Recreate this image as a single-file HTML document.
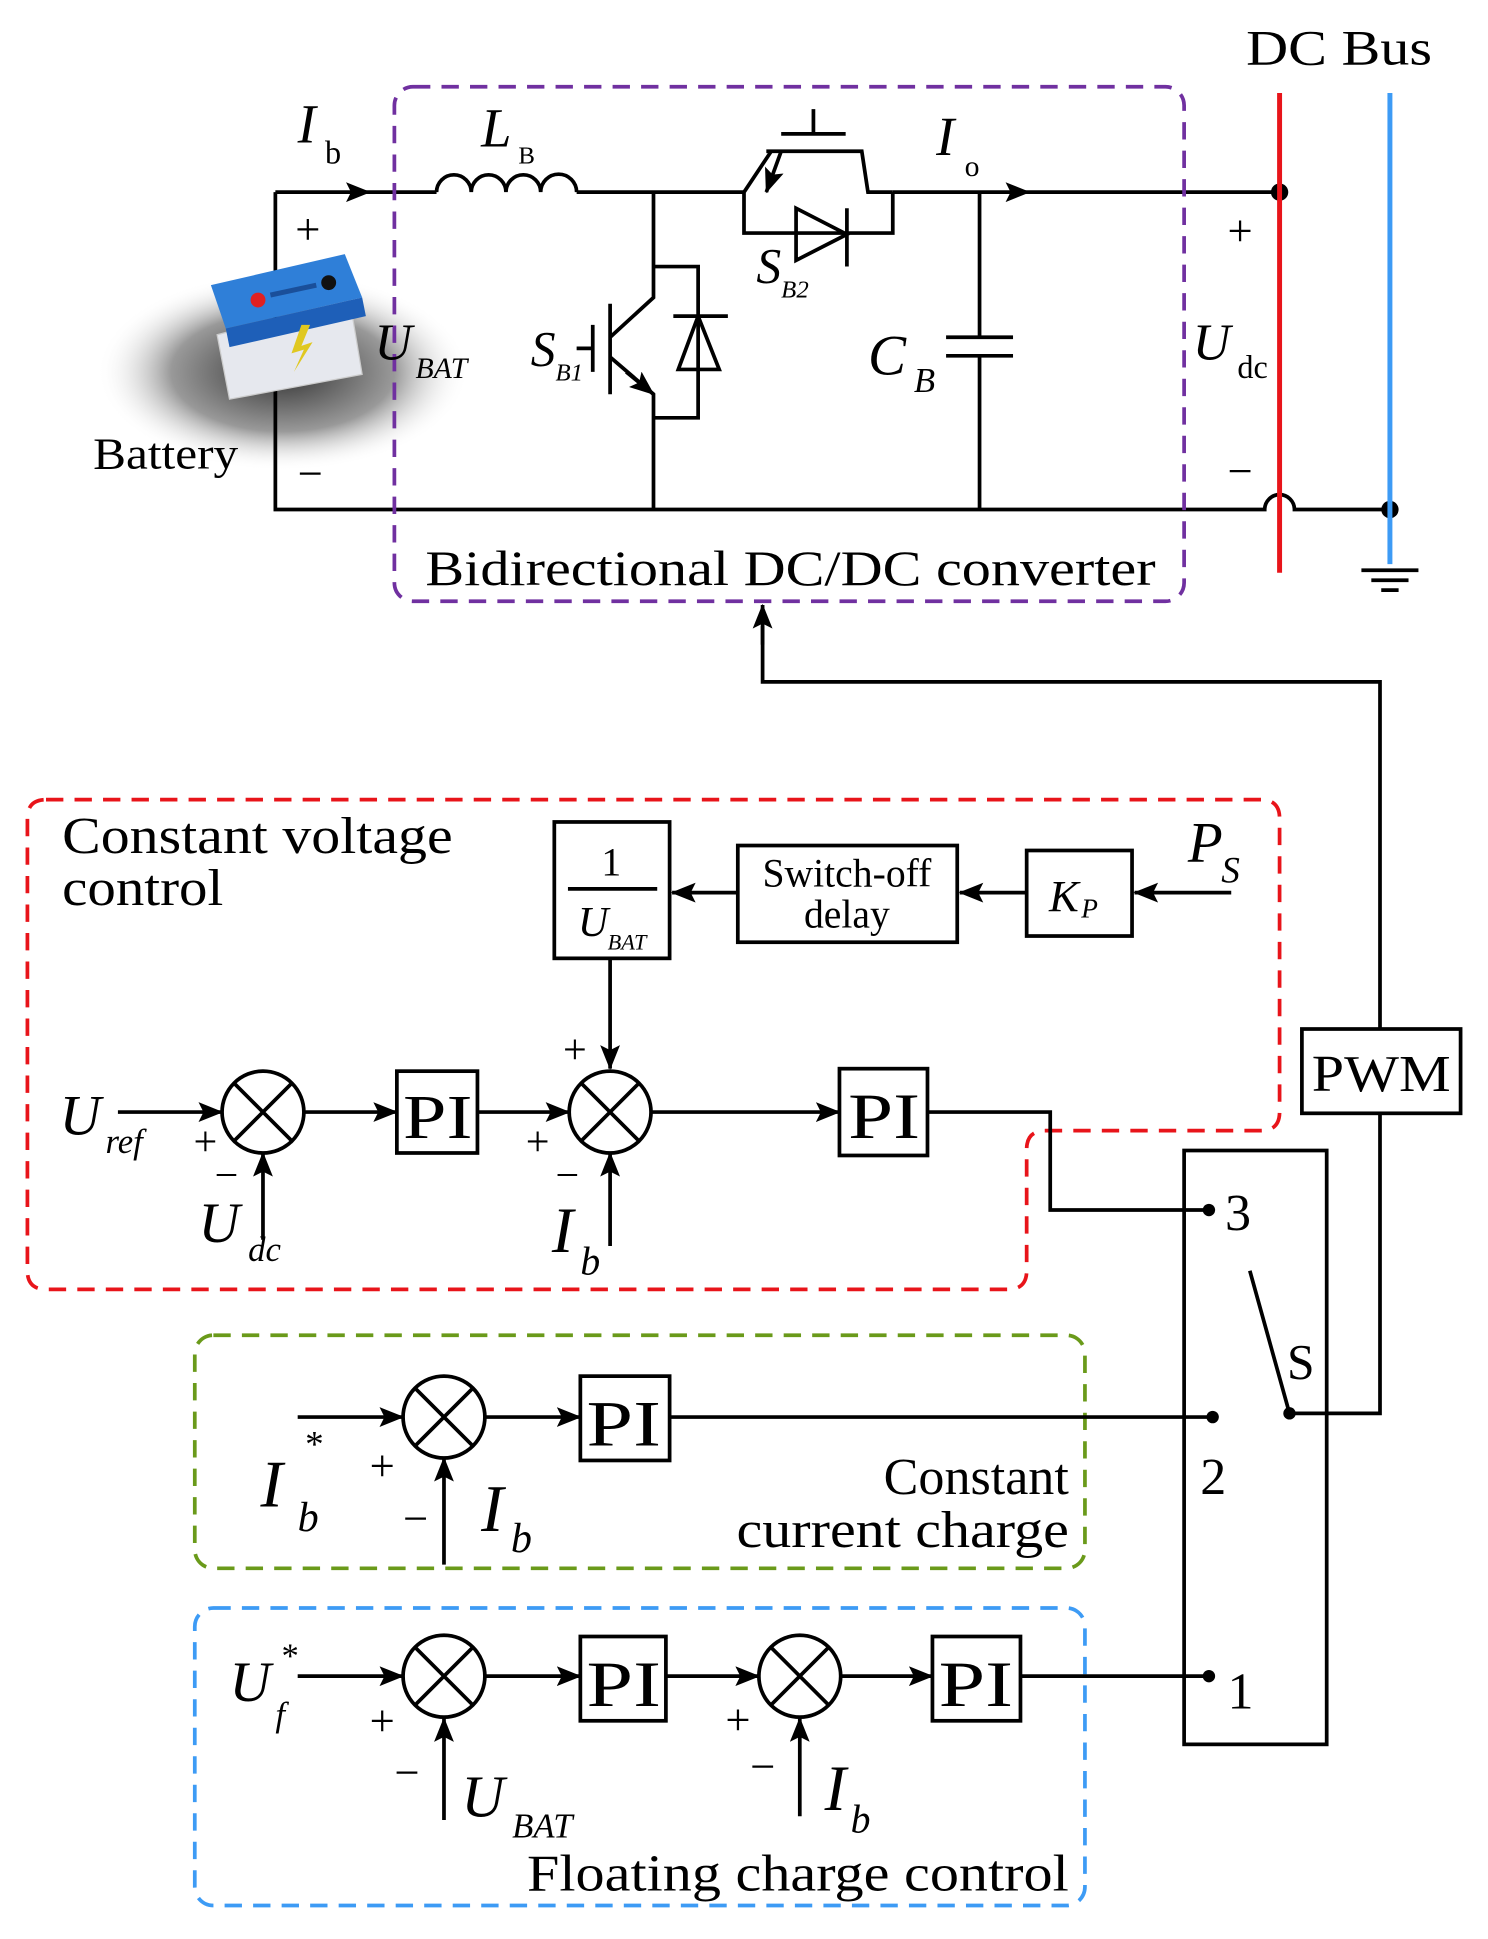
<!DOCTYPE html>
<html><head><meta charset="utf-8"><style>html,body{margin:0;padding:0;background:#fff}svg{display:block}</style></head>
<body>
<svg width="1488" height="1939" viewBox="0 0 1200 1564" xmlns="http://www.w3.org/2000/svg" font-family="'Liberation Serif', serif">
<defs>
<marker id="ar" markerWidth="20" markerHeight="16" refX="19" refY="8" orient="auto" markerUnits="userSpaceOnUse" viewBox="0 0 20 16"><path d="M0,0 L20,8 L0,16 L4,8 z" fill="#000"/></marker>
<radialGradient id="sh" cx="0.5" cy="0.5" r="0.5"><stop offset="0" stop-color="#333"/><stop offset="0.6" stop-color="#999"/><stop offset="1" stop-color="#fff" stop-opacity="0"/></radialGradient>
</defs>
<g stroke="#000" stroke-width="3" fill="none">
<ellipse cx="228" cy="300" rx="150" ry="80" fill="url(#sh)" stroke="none"/>
<path d="M222,155 H352 M465,155 H600 M720,155 H1032 M222,155 V411 H1020 A12,12 0 0 1 1044,411 H1121"/>
<path d="M352,155 a14,14 0 0 1 28,0 a14,14 0 0 1 28,0 a14,14 0 0 1 28,0 a14,14 0 0 1 29,0"/>
<path d="M270,155 H298" marker-end="url(#ar)" stroke-width="2"/>
<path d="M800,155 H830" marker-end="url(#ar)" stroke-width="2"/>
<path d="M527,155 V240 L492,272 M492,288 L527,318 V411 M527,215 H563 V337 H527 M492,245 V318 M478,262 V300 M465,281 H478"/>
<path d="M505,300 L527,318" marker-end="url(#ar)"/>
<path d="M543,255 H587 M563,255 L547,298 H580 Z"/>
<path d="M600,155 L622,122 M618,122 H695 L700,155 H720 M630,108 H682 M656,88 V108 M600,155 V188 H720 V155 M642,168 V210 L683,189 Z M683,168 V215"/>
<path d="M630,122 L618,155" marker-end="url(#ar)"/>
<path d="M790,155 V272 M763,272 H817 M763,287 H817 M790,287 V411"/>
</g>
<circle cx="1032" cy="155" r="7"/><circle cx="1121" cy="411" r="7"/>
<line x1="1032" y1="75" x2="1032" y2="462" stroke="#e8141a" stroke-width="4"/>
<line x1="1121" y1="75" x2="1121" y2="455" stroke="#3d9bf5" stroke-width="4"/>
<g stroke="#000" stroke-width="3"><line x1="1098" y1="460" x2="1144" y2="460"/><line x1="1106" y1="468" x2="1136" y2="468"/><line x1="1114" y1="476" x2="1128" y2="476"/></g>
<g>
<polygon points="175,270 282,242 292,302 185,322" fill="#e6e8ee" stroke="#ccc"/>
<polygon points="170,230 278,205 292,240 182,265" fill="#2f7fd8"/>
<polygon points="182,265 292,240 295,255 185,280" fill="#1e5fb8"/>
<circle cx="208" cy="242" r="6" fill="#e02020"/><circle cx="265" cy="228" r="6" fill="#111"/>
<path d="M218,238 L255,230" stroke="#1a4f9a" stroke-width="4"/>
<path d="M243,262 L235,285 L245,282 L237,300 L252,276 L243,279 L250,262 Z" fill="#e0c820"/>
</g>
<rect x="318" y="70" width="637" height="415" rx="15" fill="none" stroke="#7030a0" stroke-width="3" stroke-dasharray="14,9"/>
<g font-size="40" fill="#000">
<text x="1005" y="52" textLength="150" lengthAdjust="spacingAndGlyphs">DC Bus</text>
<text x="343" y="472" textLength="589" lengthAdjust="spacingAndGlyphs">Bidirectional DC/DC converter</text>
<text x="75" y="378" font-size="36" textLength="117" lengthAdjust="spacingAndGlyphs">Battery</text>
<text x="240" y="115" font-style="italic" font-size="44">I</text><text x="262" y="132" font-size="26">b</text>
<text x="388" y="118" font-style="italic" font-size="44">L</text><text x="418" y="132" font-size="20">B</text>
<text x="755" y="125" font-style="italic" font-size="44">I</text><text x="778" y="142" font-size="24">o</text>
<text x="238" y="197" font-size="36">+</text><text x="240" y="394" font-size="36">−</text>
<text x="990" y="198" font-size="36">+</text><text x="990" y="392" font-size="36">−</text>
<text x="302" y="290" font-style="italic" font-size="42">U</text><text x="335" y="305" font-style="italic" font-size="24">BAT</text>
<text x="962" y="290" font-style="italic" font-size="42">U</text><text x="998" y="305" font-size="26">dc</text>
<text x="428" y="295" font-style="italic" font-size="40">S</text><text x="448" y="307" font-style="italic" font-size="20">B1</text>
<text x="610" y="228" font-style="italic" font-size="40">S</text><text x="630" y="240" font-style="italic" font-size="20">B2</text>
<text x="700" y="302" font-style="italic" font-size="46">C</text><text x="737" y="316" font-style="italic" font-size="28">B</text>
</g>
<g stroke="#000" stroke-width="3" fill="none">
<path d="M1113,830 V550 H615 V505"/><path d="M615,520 V488" marker-end="url(#ar)"/>
<rect x="1050" y="830" width="128" height="68"/>
<path d="M1113,898 V1140 H1040 M1040,1140 L1008,1025"/>
<rect x="955" y="928" width="115" height="479"/>
<path d="M37,645 H1017 Q1032,645 1032,660 V897 Q1032,912 1017,912 H843 Q828,912 828,927 V1025 Q828,1040 813,1040 H37 Q22,1040 22,1025 V660 Q22,645 37,645 Z" stroke="#e8141a" stroke-dasharray="14,9"/>
<rect x="157" y="1077" width="718" height="188" rx="15" stroke="#6a9a1a" stroke-dasharray="14,9"/>
<rect x="157" y="1297" width="718" height="240" rx="15" stroke="#3d9bf5" stroke-dasharray="14,9"/>
<rect x="447" y="663" width="93" height="110"/><line x1="458" y1="717" x2="530" y2="717"/>
<rect x="595" y="682" width="177" height="78"/>
<rect x="828" y="686" width="85" height="69"/>
<path d="M993,720 H915" marker-end="url(#ar)"/><path d="M828,720 H774" marker-end="url(#ar)"/><path d="M595,720 H542" marker-end="url(#ar)"/>
<path d="M492,773 V862" marker-end="url(#ar)"/>
<circle cx="212" cy="897" r="33"/><path d="M189,874 L235,920 M235,874 L189,920"/>
<circle cx="492" cy="897" r="33"/><path d="M469,874 L515,920 M515,874 L469,920"/>
<rect x="320" y="864" width="65" height="66"/><rect x="677" y="862" width="71" height="70"/>
<path d="M95,897 H179" marker-end="url(#ar)"/><path d="M245,897 H320" marker-end="url(#ar)"/><path d="M385,897 H459" marker-end="url(#ar)"/><path d="M525,897 H677" marker-end="url(#ar)"/>
<path d="M748,897 H847 V976 H975"/>
<path d="M212,1000 V930" marker-end="url(#ar)"/><path d="M492,1005 V930" marker-end="url(#ar)"/>
<circle cx="358" cy="1143" r="33"/><path d="M335,1120 L381,1166 M381,1120 L335,1166"/>
<rect x="468" y="1110" width="72" height="68"/>
<path d="M240,1143 H325" marker-end="url(#ar)"/><path d="M391,1143 H468" marker-end="url(#ar)"/>
<path d="M540,1143 H978"/><path d="M358,1262 V1176" marker-end="url(#ar)"/>
<circle cx="358" cy="1352" r="33"/><path d="M335,1329 L381,1375 M381,1329 L335,1375"/>
<circle cx="645" cy="1352" r="33"/><path d="M622,1329 L668,1375 M668,1329 L622,1375"/>
<rect x="468" y="1320" width="69" height="68"/><rect x="752" y="1320" width="71" height="68"/>
<path d="M240,1352 H325" marker-end="url(#ar)"/><path d="M391,1352 H468" marker-end="url(#ar)"/><path d="M537,1352 H612" marker-end="url(#ar)"/><path d="M678,1352 H752" marker-end="url(#ar)"/>
<path d="M823,1352 H975"/>
<path d="M358,1468 V1386" marker-end="url(#ar)"/><path d="M645,1465 V1386" marker-end="url(#ar)"/>
</g>
<circle cx="975" cy="976" r="5"/><circle cx="978" cy="1143" r="5"/><circle cx="975" cy="1352" r="5"/><circle cx="1040" cy="1140" r="5"/>
<g fill="#000" font-size="40">
<text x="1058" y="880" font-size="42" textLength="112" lengthAdjust="spacingAndGlyphs">PWM</text>
<text x="988" y="992" font-size="42">3</text><text x="968" y="1205" font-size="42">2</text><text x="990" y="1378" font-size="42">1</text>
<text x="1038" y="1112" font-size="40">S</text>
<text x="50" y="688" font-size="42" textLength="315" lengthAdjust="spacingAndGlyphs">Constant voltage</text><text x="50" y="730" font-size="42" textLength="130" lengthAdjust="spacingAndGlyphs">control</text>
<text x="485" y="706" font-size="32">1</text>
<text x="466" y="755" font-style="italic" font-size="34">U</text><text x="490" y="766" font-style="italic" font-size="18">BAT</text>
<text x="683" y="715" font-size="32" text-anchor="middle">Switch-off</text><text x="683" y="748" font-size="32" text-anchor="middle">delay</text>
<text x="846" y="735" font-style="italic" font-size="36">K</text><text x="872" y="740" font-style="italic" font-size="22">P</text>
<text x="958" y="695" font-style="italic" font-size="46">P</text><text x="985" y="712" font-style="italic" font-size="30">S</text>
<text x="325" y="918" font-size="50" textLength="56" lengthAdjust="spacingAndGlyphs">PI</text><text x="684" y="918" font-size="52" textLength="58" lengthAdjust="spacingAndGlyphs">PI</text>
<text x="48" y="915" font-style="italic" font-size="46">U</text><text x="85" y="930" font-style="italic" font-size="28">ref</text>
<text x="156" y="932" font-size="34">+</text><text x="173" y="959" font-size="34">−</text>
<text x="160" y="1002" font-style="italic" font-size="46">U</text><text x="200" y="1017" font-style="italic" font-size="28">dc</text>
<text x="454" y="858" font-size="34">+</text><text x="424" y="932" font-size="34">+</text><text x="448" y="959" font-size="34">−</text>
<text x="445" y="1010" font-style="italic" font-size="52">I</text><text x="468" y="1028" font-style="italic" font-size="32">b</text>
<text x="473" y="1166" font-size="52" textLength="60" lengthAdjust="spacingAndGlyphs">PI</text>
<text x="210" y="1215" font-style="italic" font-size="54">I</text><text x="246" y="1175" font-size="30">*</text><text x="240" y="1235" font-style="italic" font-size="34">b</text>
<text x="298" y="1194" font-size="36">+</text><text x="325" y="1237" font-size="36">−</text>
<text x="388" y="1235" font-style="italic" font-size="54">I</text><text x="412" y="1252" font-style="italic" font-size="34">b</text>
<text x="862" y="1205" font-size="42" text-anchor="end">Constant</text><text x="862" y="1248" font-size="42" text-anchor="end" textLength="268" lengthAdjust="spacingAndGlyphs">current charge</text>
<text x="473" y="1376" font-size="52" textLength="60" lengthAdjust="spacingAndGlyphs">PI</text><text x="757" y="1376" font-size="52" textLength="60" lengthAdjust="spacingAndGlyphs">PI</text>
<text x="185" y="1372" font-style="italic" font-size="46">U</text><text x="227" y="1345" font-size="28">*</text><text x="222" y="1392" font-style="italic" font-size="28">f</text>
<text x="298" y="1400" font-size="36">+</text><text x="318" y="1442" font-size="36">−</text>
<text x="372" y="1465" font-style="italic" font-size="48">U</text><text x="413" y="1482" font-style="italic" font-size="28">BAT</text>
<text x="585" y="1399" font-size="36">+</text><text x="605" y="1437" font-size="36">−</text>
<text x="665" y="1460" font-style="italic" font-size="52">I</text><text x="686" y="1478" font-style="italic" font-size="32">b</text>
<text x="425" y="1525" font-size="42" textLength="437" lengthAdjust="spacingAndGlyphs">Floating charge control</text>
</g>
</svg>
</body></html>
